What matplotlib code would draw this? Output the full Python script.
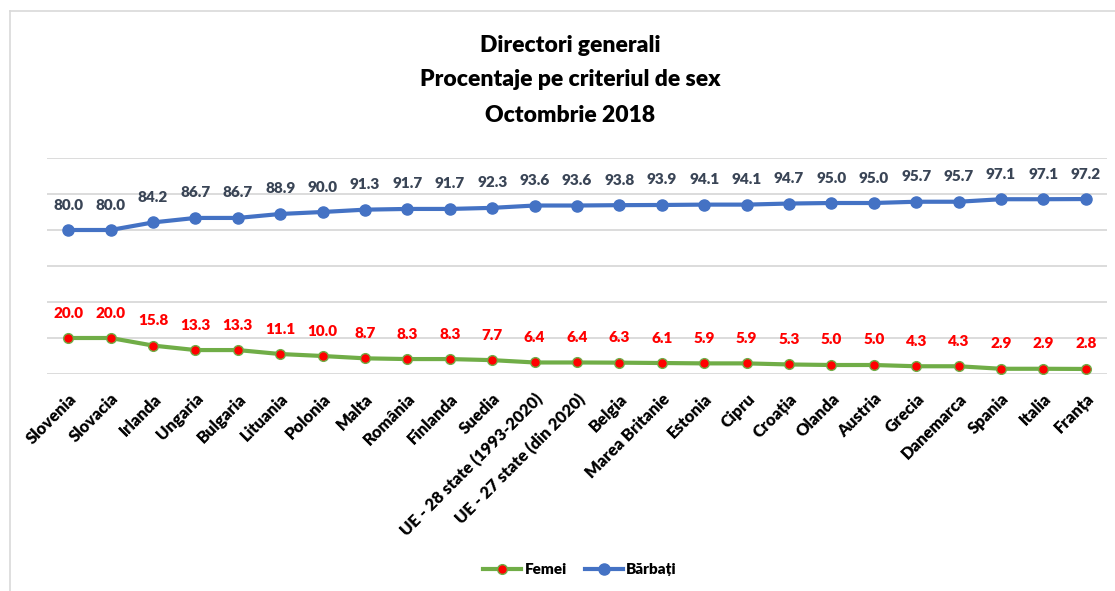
import matplotlib
matplotlib.use("Agg")
import matplotlib.pyplot as plt
from matplotlib.lines import Line2D

categories = ["Slovenia", "Slovacia", "Irlanda", "Ungaria", "Bulgaria", "Lituania",
              "Polonia", "Malta", "România", "Finlanda", "Suedia",
              "UE - 28 state (1993-2020)", "UE - 27 state (din 2020)", "Belgia",
              "Marea Britanie", "Estonia", "Cipru", "Croația", "Olanda", "Austria",
              "Grecia", "Danemarca", "Spania", "Italia", "Franța"]
femei = [20.0, 20.0, 15.8, 13.3, 13.3, 11.1, 10.0, 8.7, 8.3, 8.3, 7.7, 6.4, 6.4,
         6.3, 6.1, 5.9, 5.9, 5.3, 5.0, 5.0, 4.3, 4.3, 2.9, 2.9, 2.8]
barbati = [80.0, 80.0, 84.2, 86.7, 86.7, 88.9, 90.0, 91.3, 91.7, 91.7, 92.3, 93.6,
           93.6, 93.8, 93.9, 94.1, 94.1, 94.7, 95.0, 95.0, 95.7, 95.7, 97.1, 97.1, 97.2]
title_lines = ["Directori generali", "Procentaje pe criteriul de sex", "Octombrie 2018"]

FAM = ["Lato", "DejaVu Sans"]
plt.rcParams["font.family"] = FAM
plt.rcParams["font.weight"] = "bold"
W = "heavy"

fig = plt.figure(figsize=(11.15, 5.91), dpi=100)
ax = fig.add_axes([47 / 1115, 1 - 374 / 591, (1107 - 47) / 1115, (374 - 158) / 591])

x = list(range(len(categories)))
green = "#70AD47"
blue = "#4472C4"

ax.plot(x, femei, color=green, lw=3, marker="o", ms=7, mfc="#FF0000",
        mec=green, mew=1.0, zorder=3, solid_capstyle="round")
ax.plot(x, barbati, color=blue, lw=3, marker="o", ms=8, mfc=blue,
        mec=blue, zorder=3, solid_capstyle="round")

for xi, v in zip(x, femei):
    ax.annotate(f"{v:.1f}", (xi, v), xytext=(0, 18), textcoords="offset points",
                ha="center", va="center", color="#FF0000", fontsize=11,
                fontweight=W)
for xi, v in zip(x, barbati):
    ax.annotate(f"{v:.1f}", (xi, v), xytext=(0, 18), textcoords="offset points",
                ha="center", va="center", color="#3A4556", fontsize=11,
                fontweight=W)

ax.set_xlim(-0.5, len(categories) - 0.5)
ax.set_ylim(0, 120)
ax.set_yticks(range(0, 121, 20))
ax.set_yticklabels([])
ax.tick_params(axis="y", length=0)
ax.grid(axis="y", color="#D9D9D9", lw=1.3)
ax.set_axisbelow(True)
for s in ax.spines.values():
    s.set_visible(False)

ax.set_xticks(x)
ax.set_xticklabels(categories, rotation=45, ha="right", rotation_mode="anchor",
                   fontsize=12, fontweight=W)
ax.tick_params(axis="x", length=0, pad=12)

for i, (t, yy) in enumerate(zip(title_lines, [45, 80, 115])):
    fig.text(570 / 1115, 1 - yy / 591, t, ha="center", va="center",
             fontsize=16.5, fontweight=W, color="black")

handles = [Line2D([], [], color=green, lw=3, marker="o", ms=7, mfc="#FF0000",
                  mec=green),
           Line2D([], [], color=blue, lw=3, marker="o", ms=8, mfc=blue, mec=blue)]
fig.legend(handles, ["Femei", "Bărbați"], loc="center",
           bbox_to_anchor=(580 / 1115, 1 - 570 / 591), ncol=2, frameon=False,
           prop={"size": 11, "weight": W}, handlelength=2.5,
           handletextpad=0.2, columnspacing=1.2)

# outer frame lines (top and left)
fig.add_artist(Line2D([10 / 1115, 1], [1 - 11 / 591, 1 - 11 / 591],
                      transform=fig.transFigure, color="#D9D9D9", lw=1.2))
fig.add_artist(Line2D([10 / 1115, 10 / 1115], [0, 1 - 11 / 591],
                      transform=fig.transFigure, color="#D9D9D9", lw=1.2))

fig.savefig("out.png", dpi=100, facecolor="white")
